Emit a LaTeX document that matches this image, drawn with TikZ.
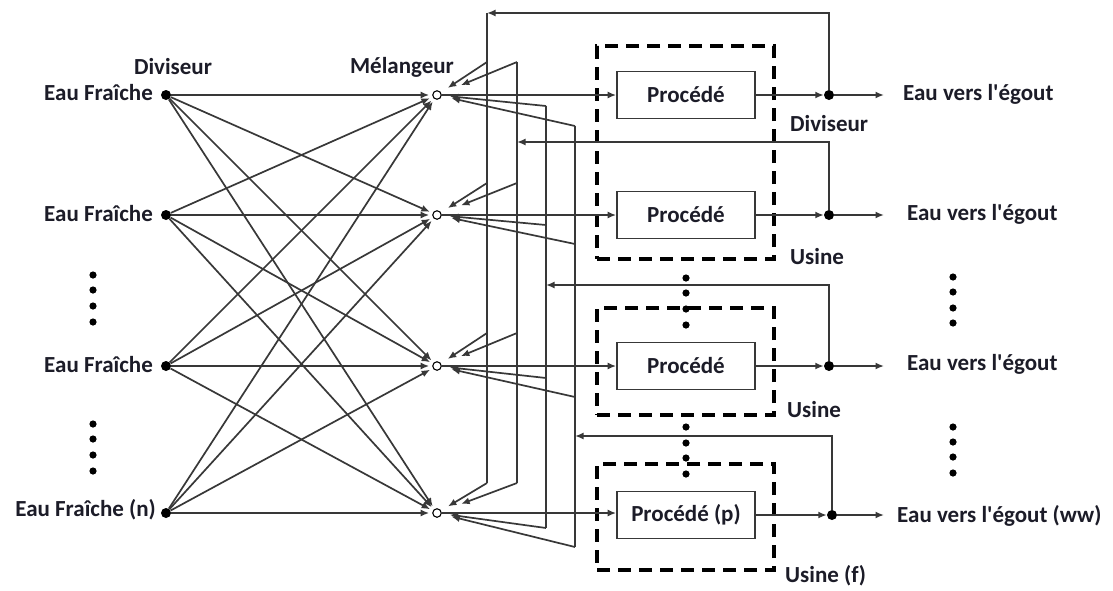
\documentclass[tikz,border=0pt]{standalone}
\usepackage{fontspec}
\setmainfont{Carlito}[Ligatures=TeXOff]
\usetikzlibrary{arrows.meta,calc}
\definecolor{linec}{HTML}{383838}
\definecolor{txtc}{HTML}{1C1C28}
\begin{document}
\begin{tikzpicture}[x=1pt,y=-1pt,
  wire/.style={draw=linec, line width=1.7pt},
  flow/.style={wire, -{Latex[length=8.5pt,width=7pt]}},
  src/.style={circle, fill=black, inner sep=0pt, minimum size=10pt},
  outdiv/.style={circle, fill=black, inner sep=0pt, minimum size=10pt},
  mix/.style={circle, draw=black, line width=1.1pt, fill=white, inner sep=0pt, minimum size=8.5pt},
  proc/.style={draw=linec, line width=1.7pt, fill=white, minimum width=138pt, minimum height=47pt, inner sep=0pt, font=\fontsize{23}{27}\selectfont\bfseries, text=txtc},
  plant/.style={draw=black, line width=3.6pt, dash pattern=on 13pt off 8pt, minimum width=177pt, inner sep=0pt},
  lbl/.style={font=\fontsize{23}{27}\selectfont\bfseries, text=txtc, inner sep=0pt},
  dotmark/.style={fill=black}]
\useasboundingbox (0,0) rectangle (1113,590);
\fill[white] (0,0) rectangle (1113,590);

% plant boundaries (dashed)
\node[plant, minimum height=213pt] (u1) at (685.5,152.5) {};
\node[plant, minimum height=107pt] (u2) at (685.5,361.5) {};
\node[plant, minimum height=106pt] (u3) at (685.5,517) {};

% splitters of fresh water and mixers
\foreach \i/\y in {1/95,2/215,3/366,4/513} {
  \node[src] (s\i) at (166,\y) {};
  \node[mix] (m\i) at (437,\y) {};
}

% fresh water labels
\node[lbl, anchor=east] (f1) at (153,93) {Eau Fraîche};
\node[lbl, anchor=east] (f2) at (153,214) {Eau Fraîche};
\node[lbl, anchor=east] (f3) at (153,365) {Eau Fraîche};
\node[lbl, anchor=east] (f4) at (156,510) {Eau Fraîche (n)};
\node[lbl] (dv1) at (173,67) {Diviseur};
\node[lbl] (mel) at (402,67) {Mélangeur};

% every fresh water source feeds every mixer
\foreach \i in {1,...,4} {
  \foreach \j in {1,...,4} {
    \draw[flow, shorten >=3pt] (s\i) -- (m\j);
  }
}

% process units
\node[proc] (p1) at (686,95) {Procédé};
\node[proc] (p2) at (686,215) {Procédé};
\node[proc] (p3) at (686,366) {Procédé};
\node[proc] (p4) at (686,515) {Procédé (p)};

% output splitters
\node[outdiv] (r1) at (829,95) {};
\node[outdiv] (r2) at (829,215) {};
\node[outdiv] (r3) at (829,366) {};
\node[outdiv] (r4) at (832,515) {};

% recycle collectors
\coordinate (atop) at (487,13);
\coordinate (bin) at (517,142);
\coordinate (cin) at (546,285);
\coordinate (din) at (575,436);
\foreach \j/\y in {1/62,2/183,3/333,4/483} {
  \coordinate (a\j) at (487,\y);
  \coordinate (b\j) at (517,\y);
}
\foreach \j/\yc/\yd in {1/106/126,2/225/244,3/378/397,4/528/547} {
  \coordinate (c\j) at (546,\yc);
  \coordinate (d\j) at (575,\yd);
}
\draw[wire] (atop) -- (a4);
\draw[wire] (b1) -- (b4);
\draw[wire] (c1) -- (c4);
\draw[wire] (d1) -- (d4);

\draw[flow] (r1) |- (atop);
\draw[flow] (r2) |- (bin);
\draw[flow] (r3) |- (cin);
\draw[flow] (r4) |- (din);

\foreach \j in {1,...,4} {
  \draw[flow, shorten >=8pt] (a\j) -- (m\j);
  \draw[flow, shorten >=21pt] (b\j) -- (m\j);
  \draw[flow, shorten >=8pt] (c\j) -- (m\j);
  \draw[flow, shorten >=10pt] (d\j) -- (m\j);
}

% mixer -> process -> splitter -> sewer
\foreach \j in {1,...,4} {
  \draw[flow] (m\j) -- (m\j -| p\j.west);
  \draw[flow] (p\j.east |- r\j) -- (r\j);
}
\coordinate (e1) at (884,95);
\coordinate (e2) at (884,215);
\coordinate (e3) at (884,366);
\coordinate (e4) at (884,515);
\foreach \j in {1,...,4} {
  \draw[flow] (r\j) -- (e\j);
}
\node[lbl, anchor=west] (w1) at (903,94) {Eau vers l'égout};
\node[lbl, anchor=west] (w2) at (907,214) {Eau vers l'égout};
\node[lbl, anchor=west] (w3) at (907,364) {Eau vers l'égout};
\node[lbl, anchor=west] (w4) at (897,516) {Eau vers l'égout (ww)};

\node[lbl, anchor=west] (dv2) at (790,124) {Diviseur};
\node[lbl, anchor=west] (us1) at (790,257) {Usine};
\node[lbl, anchor=west] (us2) at (787,410) {Usine};
\node[lbl, anchor=west] (us3) at (785,576) {Usine (f)};

% ellipsis dots
\foreach \y in {275,290,306,322,424,439,455,471} {
  \fill[dotmark] (93,\y) circle (3.6pt);
}
\foreach \y in {278,293,309,325,427,443,458,474} {
  \fill[dotmark] (686,\y) circle (3.6pt);
}
\foreach \y in {277,292,308,323,427,442,457,473} {
  \fill[dotmark] (953,\y) circle (3.6pt);
}
\end{tikzpicture}
\end{document}
